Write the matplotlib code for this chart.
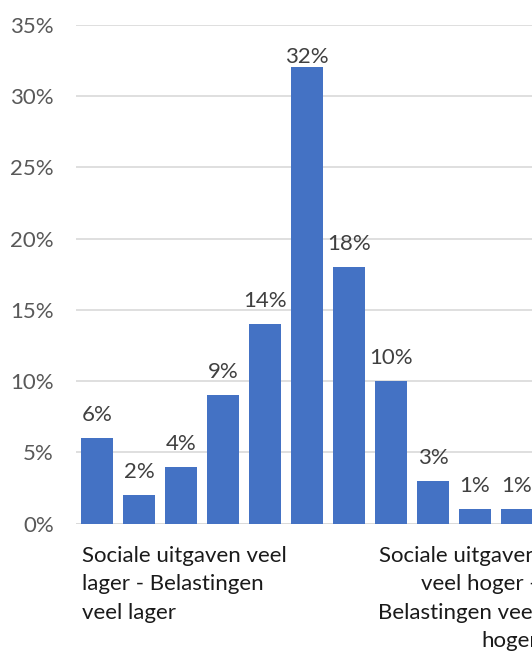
import matplotlib
matplotlib.use("Agg")
import matplotlib.pyplot as plt
from matplotlib.ticker import FuncFormatter

categories = [
    "Sociale uitgaven veel\nlager - Belastingen\nveel lager",
    "", "", "", "", "", "", "", "", "",
    "Sociale uitgaven\nveel hoger -\nBelastingen veel\nhoger",
]
values = [0.06, 0.02, 0.04, 0.09, 0.14, 0.32, 0.18, 0.10, 0.03, 0.01, 0.01]
data_labels = ["6%", "2%", "4%", "9%", "14%", "32%", "18%", "10%", "3%", "1%", "1%"]
y_ticks = [0, 0.05, 0.10, 0.15, 0.20, 0.25, 0.30, 0.35]

plt.rcParams['font.family'] = ['Lato', 'DejaVu Sans']

W, H = 532, 652
fig = plt.figure(figsize=(W / 100, H / 100), dpi=100)
left, right, top, bottom = 76, 538, 24.7, 523.7
ax = fig.add_axes([left / W, (H - bottom) / H, (right - left) / W, (bottom - top) / H])

x = list(range(len(values)))
bars = ax.bar(x, values, width=0.75, color="#4472C4", zorder=3)
ax.set_xlim(-0.5, len(values) - 0.5)
ax.set_ylim(0, 0.35)
ax.set_yticks(y_ticks)
ax.yaxis.set_major_formatter(FuncFormatter(lambda v, p: f"{round(v * 100)}%"))
ax.grid(axis="y", color="#D9D9D9", linewidth=1.2, zorder=0)
ax.set_axisbelow(True)
for s in ax.spines.values():
    s.set_visible(False)
ax.axhline(0, color="#D9D9D9", linewidth=1.2, zorder=2)
ax.tick_params(axis="y", length=0, pad=16, labelsize=16, labelcolor="#595959")
ax.set_xticks([])

# data labels: normally ~17px above the bar, clamped inside the chart area
fs = 16
px_per_pt = 100 / 72
label_h_px = fs * px_per_pt * 1.15
for xi, v, lab in zip(x, values, data_labels):
    bar_top_px = ax.transData.transform((xi, v))[1]
    off_px = 13
    max_off = (H - 45) - label_h_px + 4 - bar_top_px
    off_px = min(off_px, max_off)
    ax.annotate(lab, (xi, v), xytext=(0, off_px / px_per_pt), textcoords="offset points",
                ha="center", va="bottom", fontsize=fs, color="#404040")

ax.text(0.012, -0.045, categories[0], transform=ax.transAxes, ha="left", va="top",
        fontsize=fs, color="#1a1a1a", linespacing=1.52, multialignment="left")
ax.text(1.0, -0.045, categories[-1], transform=ax.transAxes, ha="right", va="top",
        fontsize=fs, color="#1a1a1a", linespacing=1.52, multialignment="right")

fig.savefig("out.png", dpi=100)
